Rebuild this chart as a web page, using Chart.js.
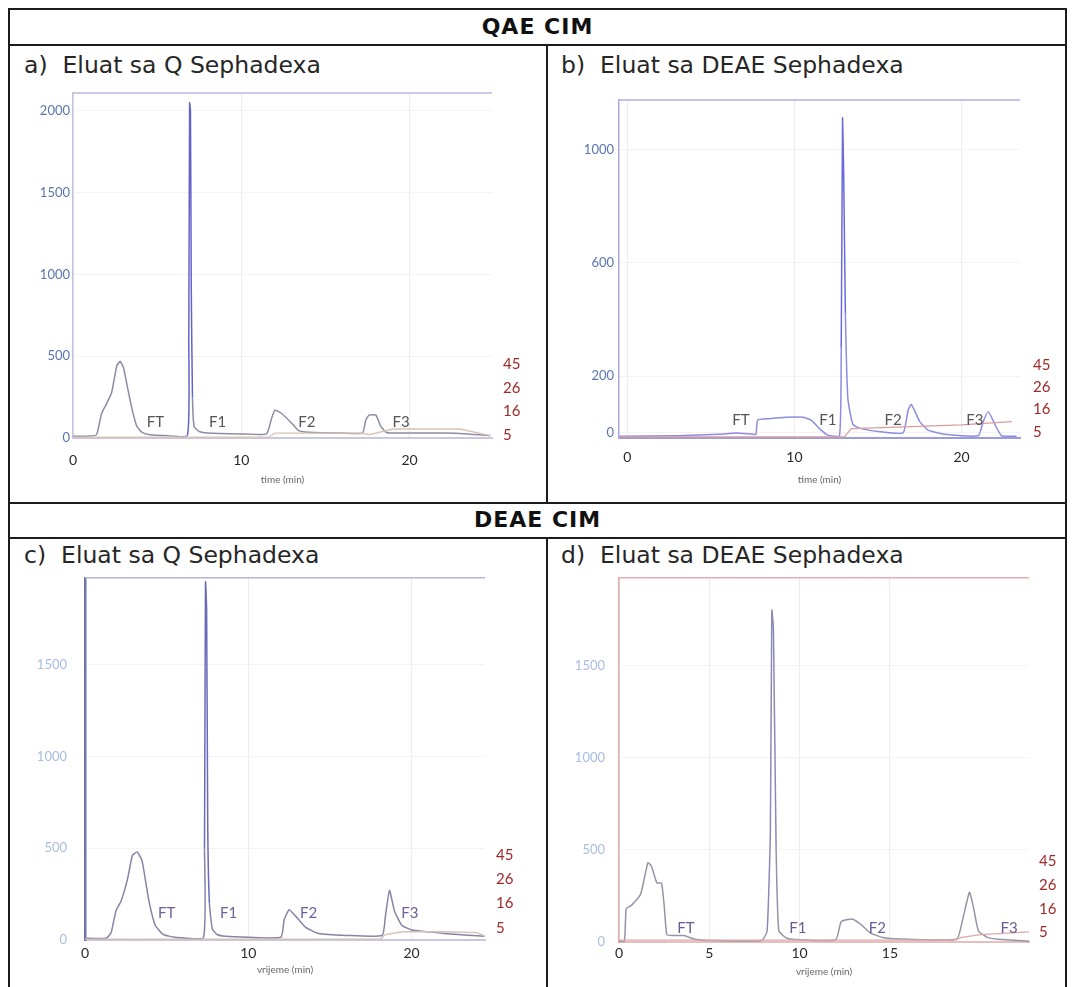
<!DOCTYPE html>
<html>
<head>
<meta charset="utf-8">
<script src="https://cdn.jsdelivr.net/npm/chart.js@4.4.1/dist/chart.umd.min.js"></script>
<style>
  body { margin: 0; width: 1073px; height: 987px; overflow: hidden; position: relative; background: #fff; font-family: "DejaVu Sans", Verdana, sans-serif; }
  .ln { position: absolute; background: #1c1c1c; }
  .hdr { position: absolute; left: 9px; width: 1057px; text-align: center; font-weight: bold; font-size: 22px; letter-spacing: 1px; line-height: 26px; color: #111; }
  .ttl { position: absolute; font-size: 23.5px; line-height: 28px; color: #262626; white-space: pre; }
  canvas { position: absolute; }
</style>
</head>
<body>
<div class="ln" style="left:8px;top:8px;width:1059px;height:2px"></div>
<div class="ln" style="left:8px;top:8px;width:2px;height:980px"></div>
<div class="ln" style="left:1065px;top:8px;width:2px;height:980px"></div>
<div class="ln" style="left:8px;top:44px;width:1059px;height:2px"></div>
<div class="ln" style="left:8px;top:502px;width:1059px;height:2px"></div>
<div class="ln" style="left:8px;top:537px;width:1059px;height:2px"></div>
<div class="ln" style="left:546px;top:44px;width:2px;height:460px"></div>
<div class="ln" style="left:546px;top:537px;width:2px;height:451px"></div>

<div class="hdr" style="top:14px">QAE CIM</div>
<div class="hdr" style="top:507px">DEAE CIM</div>
<div class="ttl" style="left:24px;top:51px">a)  Eluat sa Q Sephadexa</div>
<div class="ttl" style="left:561px;top:51px">b)  Eluat sa DEAE Sephadexa</div>
<div class="ttl" style="left:24px;top:541px">c)  Eluat sa Q Sephadexa</div>
<div class="ttl" style="left:561px;top:541px">d)  Eluat sa DEAE Sephadexa</div>

<canvas id="chart-a" width="507" height="415" style="left:20px;top:73px"></canvas>
<canvas id="chart-b" width="492" height="410" style="left:566px;top:78px"></canvas>
<canvas id="chart-c" width="495" height="433" style="left:30px;top:552px"></canvas>
<canvas id="chart-d" width="496" height="431" style="left:566px;top:556px"></canvas>

<script>
(function () {
  "use strict";

  // ---- podaci očitani sa kromatograma (vrijeme u min, apsorbancija) ----
  var FRACTIONS = ["FT", "F1", "F2", "F3"];
  var COND_LABELS = ["5", "16", "26", "45"];

  // a) QAE CIM, eluat sa Q Sephadexa
  var timeA = [0, 1.0, 1.4, 1.7, 2.0, 2.3, 2.6, 2.8, 3.0, 3.2, 3.5, 3.8, 4.1, 4.6, 5.5, 6.8, 6.88, 6.93, 6.98, 7.03, 7.1, 7.2, 7.5, 8.0, 10.0, 11.5, 11.8, 12.0, 12.4, 13.0, 13.4, 14.0, 16.0, 17.2, 17.4, 17.6, 18.0, 18.3, 18.6, 19.0, 22.0, 23.5, 24.8];
  var absA = [10, 12, 20, 150, 210, 280, 440, 470, 430, 330, 180, 70, 35, 20, 15, 15, 600, 2050, 2000, 900, 250, 70, 40, 30, 25, 25, 120, 170, 150, 90, 45, 35, 30, 30, 110, 140, 140, 70, 35, 30, 30, 25, 15];
  var gradTimeA = [0, 11.6, 12.0, 17.2, 17.6, 19.0, 23.0, 24.8];
  var gradA = [5, 5, 30, 30, 20, 55, 55, 15];
  var fracTimeA = [4.9, 8.6, 13.9, 19.5];
  var fracLevelA = [95, 95, 95, 95];
  var yTicksA = [0, 500, 1000, 1500, 2000];
  var xTicksA = [0, 10, 20];

  // b) QAE CIM, eluat sa DEAE Sephadexa
  var timeB = [-0.5, 3.0, 5.5, 6.5, 7.5, 7.7, 7.8, 8.5, 9.5, 10.5, 11.0, 11.5, 12.0, 12.7, 12.8, 12.88, 12.95, 13.05, 13.2, 13.5, 14.0, 15.0, 16.5, 16.8, 17.0, 17.5, 18.0, 19.0, 21.0, 21.3, 21.6, 22.0, 22.4, 23.3];
  var absB = [-12, -10, -5, 0, -5, -5, 45, 50, 55, 55, 45, 15, -8, -10, 300, 1110, 900, 420, 120, 30, 15, 5, 0, 80, 100, 40, 10, -5, -10, 40, 75, 30, -10, -12];
  var gradTimeB = [-0.5, 13.0, 13.4, 17.0, 20.0, 23.0];
  var gradB = [-14, -14, 15, 22, 28, 40];
  var fracTimeB = [6.8, 12.0, 15.9, 20.8];
  var fracLevelB = [45, 45, 45, 45];
  var yTicksB = [0, 200, 600, 1000];
  var xTicksB = [0, 10, 20];

  // c) DEAE CIM, eluat sa Q Sephadexa
  var timeC = [0, 1.3, 1.6, 1.9, 2.2, 2.6, 2.9, 3.2, 3.5, 3.9, 4.3, 4.8, 5.5, 7.25, 7.32, 7.38, 7.45, 7.52, 7.62, 7.8, 8.1, 8.6, 10.0, 12.0, 12.2, 12.5, 12.9, 13.5, 14.3, 16.0, 18.2, 18.4, 18.65, 18.95, 19.4, 20.0, 21.0, 22.0, 24.5];
  var absC = [10, 10, 40, 160, 210, 330, 460, 480, 430, 220, 80, 30, 15, 12, 500, 1950, 1800, 600, 200, 60, 30, 20, 15, 15, 110, 165, 130, 70, 35, 25, 25, 130, 270, 160, 80, 55, 45, 35, 20];
  var gradTimeC = [0, 18.1, 18.4, 19.5, 22.0, 24.0, 24.5];
  var gradC = [5, 5, 30, 45, 45, 40, 20];
  var fracTimeC = [5.0, 8.8, 13.7, 19.9];
  var fracLevelC = [145, 145, 145, 145];
  var yTicksC = [0, 500, 1000, 1500];
  var xTicksC = [0, 10, 20];

  // d) DEAE CIM, eluat sa DEAE Sephadexa
  var timeD = [0, 0.3, 0.4, 0.7, 1.2, 1.6, 1.8, 2.1, 2.35, 2.5, 2.65, 3.0, 3.6, 4.2, 5.0, 7.9, 8.2, 8.38, 8.46, 8.55, 8.7, 8.85, 9.3, 10.0, 12.0, 12.3, 12.9, 13.4, 13.9, 14.6, 16.0, 18.7, 19.0, 19.4, 19.6, 19.9, 20.4, 21.0, 22.7];
  var absD = [5, 5, 180, 200, 260, 430, 410, 320, 320, 200, 40, 35, 35, 15, 8, 8, 60, 600, 1800, 1700, 500, 60, 20, 12, 12, 110, 125, 95, 50, 25, 15, 15, 110, 270, 200, 60, 25, 15, 5];
  var gradTimeD = [0, 18.5, 19.0, 20.0, 22.7];
  var gradD = [10, 10, 25, 40, 55];
  var fracTimeD = [3.7, 9.9, 14.3, 21.6];
  var fracLevelD = [75, 75, 75, 75];
  var yTicksD = [0, 500, 1000, 1500];
  var xTicksD = [0, 5, 10, 15];

  Chart.defaults.font.family = "Lato, 'Open Sans', sans-serif";

  function points(xs, ys) {
    return xs.map(function (x, index) { return { x: x, y: ys[index] }; });
  }

  function fracPlugin(times, levels, color) {
    return {
      id: "fracLabels",
      afterDatasetsDraw: function (chart) {
        var ctx = chart.ctx;
        ctx.save();
        ctx.font = "15px Lato, 'Open Sans', sans-serif";
        ctx.fillStyle = color;
        ctx.textAlign = "center";
        ctx.textBaseline = "middle";
        FRACTIONS.forEach(function (name, index) {
          ctx.fillText(name, chart.scales.x.getPixelForValue(times[index]), chart.scales.y.getPixelForValue(levels[index]));
        });
        ctx.restore();
      }
    };
  }

  function topLine(color) {
    return {
      id: "topLine",
      afterDraw: function (chart) {
        var area = chart.chartArea;
        var ctx = chart.ctx;
        ctx.save();
        ctx.strokeStyle = color;
        ctx.lineWidth = 1.5;
        ctx.beginPath();
        ctx.moveTo(area.left, area.top);
        ctx.lineTo(area.right, area.top);
        ctx.stroke();
        ctx.restore();
      }
    };
  }

  function draw(p) {
    new Chart(document.getElementById(p.id), {
      type: "line",
      data: {
        datasets: [
          { data: points(p.gradTime, p.grad), borderColor: p.gradColor, borderWidth: 1.3, pointRadius: 0, tension: 0 },
          {
            data: points(p.time, p.abs), borderColor: p.color, borderWidth: 1.5, pointRadius: 0, tension: 0.15,
            segment: { borderColor: function (ctx) { return (ctx.p0.parsed.y >= 600 || ctx.p1.parsed.y >= 600) ? p.spike : undefined; } }
          }
        ]
      },
      options: {
        responsive: false,
        animation: false,
        layout: { padding: 0 },
        plugins: { legend: { display: false }, tooltip: { enabled: false } },
        scales: {
          x: {
            type: "linear", min: p.xMin, max: p.xMax,
            afterBuildTicks: function (scale) { scale.ticks = p.xTicks.map(function (v) { return { value: v }; }); },
            afterFit: function (scale) { scale.height = p.bottom; },
            ticks: { color: "#2a2a2a", font: { size: 14 }, padding: p.xPad, maxRotation: 0, autoSkip: false, callback: function (v) { return String(v); } },
            grid: { color: "#ececec", drawTicks: false },
            border: { color: p.baseColor, width: 2 },
            title: { display: true, text: p.xTitle, color: "#666", font: { size: 10 }, padding: { top: 0, bottom: p.titlePad } }
          },
          y: {
            min: p.yMin, max: p.yMax,
            afterBuildTicks: function (scale) { scale.ticks = p.yTicks.map(function (v) { return { value: v }; }); },
            afterFit: function (scale) { scale.width = p.left; },
            ticks: { color: p.yColor, font: { size: 13 }, padding: p.yPad, callback: function (v) { return String(v); } },
            grid: { color: "#f3f3f3", drawTicks: false },
            border: { color: p.axisColor, width: p.axisWidth }
          },
          y2: {
            position: "right", min: p.condMin, max: p.condMax,
            afterBuildTicks: function (scale) { scale.ticks = COND_LABELS.map(function (v, i) { return { value: i }; }); },
            afterFit: function (scale) { scale.width = p.right; },
            ticks: { color: "#a02a2a", font: { size: 15 }, padding: p.condPad, callback: function (v, i) { return COND_LABELS[i]; } },
            grid: { display: false, drawTicks: false },
            border: { display: false }
          }
        }
      },
      plugins: [fracPlugin(p.fracTime, p.fracLevel, p.fracColor), topLine(p.topColor)]
    });
  }

  draw({
    id: "chart-a", time: timeA, abs: absA, gradTime: gradTimeA, grad: gradA, fracTime: fracTimeA, fracLevel: fracLevelA,
    xTicks: xTicksA, yTicks: yTicksA, xMin: 0, xMax: 24.9, yMin: 0, yMax: 2110, condMin: -0.1, condMax: 14.3,
    left: 53, right: 35, bottom: 50, xPad: 14, yPad: 3, titlePad: 2, condPad: 11, xTitle: "time (min)",
    color: "#8c8ca6", spike: "#6464c8", gradColor: "#d8c4b4", yColor: "#5a74b0", axisColor: "#c4c4e2", axisWidth: 1.5,
    baseColor: "#c8c8e2", topColor: "#b8b8e2", fracColor: "#555"
  });
  draw({
    id: "chart-b", time: timeB, abs: absB, gradTime: gradTimeB, grad: gradB, fracTime: fracTimeB, fracLevel: fracLevelB,
    xTicks: xTicksB, yTicks: yTicksB, xMin: -0.5, xMax: 23.5, yMin: -18, yMax: 1174, condMin: -0.27, condMax: 14.8,
    left: 53, right: 38, bottom: 50, xPad: 11, yPad: 5, titlePad: 2, condPad: 13, xTitle: "time (min)",
    color: "#8c8ce0", spike: "#6a6ad8", gradColor: "#dc9c9c", yColor: "#5a74b0", axisColor: "#a8a8dc", axisWidth: 1.5,
    baseColor: "#9c9cdc", topColor: "#b0b0e4", fracColor: "#555"
  });
  draw({
    id: "chart-c", time: timeC, abs: absC, gradTime: gradTimeC, grad: gradC, fracTime: fracTimeC, fracLevel: fracLevelC,
    xTicks: xTicksC, yTicks: yTicksC, xMin: 0, xMax: 24.5, yMin: 0, yMax: 1973, condMin: -0.5, condMax: 14.4,
    left: 55, right: 40, bottom: 45, xPad: 5, yPad: 18, titlePad: 9, condPad: 11, xTitle: "vrijeme (min)",
    color: "#8484a8", spike: "#6a6ab8", gradColor: "#d4c0b4", yColor: "#a8bce0", axisColor: "#7474ac", axisWidth: 2.5,
    baseColor: "#c8c8e0", topColor: "#b4b4dc", fracColor: "#7060a0"
  });
  draw({
    id: "chart-d", time: timeD, abs: absD, gradTime: gradTimeD, grad: gradD, fracTime: fracTimeD, fracLevel: fracLevelD,
    xTicks: xTicksD, yTicks: yTicksD, xMin: 0, xMax: 22.7, yMin: 0, yMax: 1976, condMin: -0.4, condMax: 15.0,
    left: 53, right: 33, bottom: 45, xPad: 3, yPad: 14, titlePad: 9, condPad: 10, xTitle: "vrijeme (min)",
    color: "#9494a6", spike: "#8a8ab8", gradColor: "#e0a8a8", yColor: "#a8bce0", axisColor: "#e2aaaa", axisWidth: 1.5,
    baseColor: "#e6c0c0", topColor: "#e4b0b0", fracColor: "#6a5a9a"
  });
})();
</script>
</body>
</html>
